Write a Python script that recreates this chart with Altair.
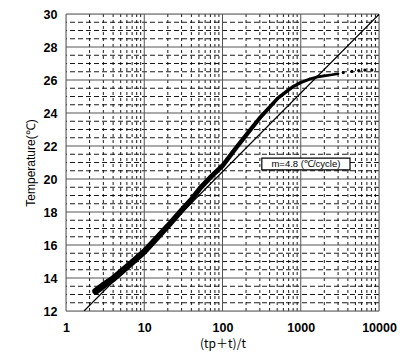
import altair as alt
import pandas as pd

# measured data (x = (tp+t)/t, y = temperature)
data_x = [2.4, 3, 4, 5, 7, 10, 15, 20, 30, 40, 52, 70, 100, 150, 220, 300, 400, 510, 700, 800,
          1000, 1300, 1600, 2000, 2500, 3000]
data_y = [13.2, 13.55, 13.95, 14.35, 14.95, 15.6, 16.5, 17.15, 18.1, 18.75, 19.45, 20.1, 20.8,
          21.9, 22.9, 23.7, 24.35, 24.9, 25.4, 25.6, 25.85, 26.05, 26.18, 26.25, 26.32, 26.38]
tail_x = [3500, 4500, 5500, 6600, 8100]
tail_y = [26.45, 26.52, 26.57, 26.6, 26.6]

# straight line fit, m = 4.8 C/cycle
fit_x = [1.7, 10000]
fit_y = [12.0, 29.98]

# grid values
x_major = [1, 10, 100, 1000, 10000]
x_minor = [m * d for d in [1, 10, 100, 1000] for m in range(2, 10)]
y_major = list(range(12, 31, 2))
y_minor = [v + 0.5 * k for v in range(12, 30, 2) for k in (1, 2, 3)]

label_text = "m=4.8 (℃/cycle)"
label_box = {"x": 318, "x2": 4260, "y": 20.55, "y2": 21.27}

xs = alt.Scale(type="log", domain=[1, 10000], nice=False)
ys = alt.Scale(domain=[12, 30], nice=False, zero=False)

X_TITLE = "(tp＋t)/t"
Y_TITLE = "Temperature(℃)"

xaxis = alt.Axis(values=x_major, format="d", grid=False, ticks=False, domain=False,
                 labelOverlap=False, labelFlush=False,
                 labelFont="Liberation Sans", labelFontWeight="bold", labelFontSize=12.5,
                 labelPadding=10, labelColor="black",
                 titleFont="Noto Sans CJK JP", titleFontWeight="normal", titleFontSize=12,
                 titlePadding=5, titleColor="black")
yaxis = alt.Axis(values=y_major, grid=False, ticks=False, domain=False,
                 labelOverlap=False, labelFlush=False,
                 labelFont="Liberation Sans", labelFontWeight="bold", labelFontSize=12.5,
                 labelPadding=9, labelColor="black",
                 titleFont="Liberation Sans", titleFontWeight="normal", titleFontSize=12,
                 titlePadding=6, titleColor="black")

df = pd.DataFrame({"x": data_x, "y": data_y})
tail = pd.DataFrame({"x": tail_x, "y": tail_y})
fit = pd.DataFrame({"x": fit_x, "y": fit_y})


def X(field):
    return alt.X(field, scale=xs, axis=xaxis, title=X_TITLE)


def Y(field):
    return alt.Y(field, scale=ys, axis=yaxis, title=Y_TITLE)


xmin = alt.Chart(pd.DataFrame({"v": x_minor})).mark_rule(color="#000", strokeWidth=0.9, strokeDash=[3, 3]).encode(
    x=X("v:Q"))
ymin = alt.Chart(pd.DataFrame({"v": y_minor})).mark_rule(color="#000", strokeWidth=0.9, strokeDash=[5, 3]).encode(
    y=Y("v:Q"))
xmaj = alt.Chart(pd.DataFrame({"v": x_major})).mark_rule(color="#555", strokeWidth=1).encode(
    x=X("v:Q"))
ymaj = alt.Chart(pd.DataFrame({"v": y_major})).mark_rule(color="#555", strokeWidth=1).encode(
    y=Y("v:Q"))

fit_line = alt.Chart(fit).mark_line(color="black", strokeWidth=1.2, clip=True).encode(
    x=X("x:Q"), y=Y("y:Q"))

trail = alt.Chart(df).mark_trail(color="black").encode(
    x=X("x:Q"), y=Y("y:Q"),
    size=alt.Size("x:Q", scale=alt.Scale(type="log", domain=[2.4, 3000], range=[7, 2.5]), legend=None))

tail_pts = alt.Chart(tail).mark_circle(color="black", size=10, opacity=1).encode(
    x=X("x:Q"), y=Y("y:Q"))

box = alt.Chart(pd.DataFrame([label_box])).mark_rect(fill="white", stroke="black", strokeWidth=1.2).encode(
    x=X("x:Q"), x2="x2:Q", y=Y("y:Q"), y2="y2:Q")
box_text = alt.Chart(pd.DataFrame({"x": [1164], "y": [20.91], "t": [label_text]})).mark_text(
    font="Liberation Sans", fontSize=9.5, color="black").encode(
    x=X("x:Q"), y=Y("y:Q"), text="t:N")

chart = alt.layer(xmin, ymin, xmaj, ymaj, fit_line, trail, tail_pts, box, box_text).properties(
    width=313, height=297,
    autosize=alt.AutoSizeParams(type="none"),
    padding={"left": 58, "top": 6, "right": 18, "bottom": 42},
).configure_view(stroke="black", strokeWidth=1.2).configure(background="white")

chart.save("out.html", embed_options={"renderer": "svg", "actions": False})
